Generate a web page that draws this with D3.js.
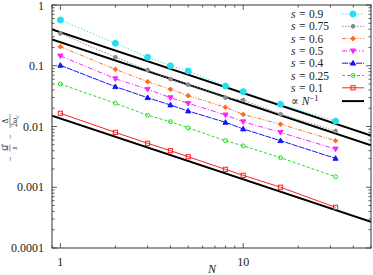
<!DOCTYPE html>
<html><head><meta charset="utf-8">
<script src="https://cdn.jsdelivr.net/npm/d3@7"></script>
<style>body{margin:0;background:#fff}svg{display:block}text{font-family:"Liberation Serif","DejaVu Serif",serif;fill:#222}</style>
</head><body><svg id="c" width="373" height="275"></svg>
<script>
const N = [1,2,3,4,5,8,10,16,32];
const sLabels = ["0.9","0.75","0.6","0.5","0.4","0.25","0.1"];
const s09  = [0.566,0.234,0.138,0.100,0.082,0.0464,0.0374,0.0232,0.0123];
const s075 = [0.341,0.138,0.085,0.0605,0.0488,0.0298,0.0273,0.0159,0.00843];
const s06  = [0.206,0.0873,0.0547,0.0409,0.0322,0.0207,0.0158,0.0109,0.00584];
const s05  = [0.145,0.0612,0.041,0.0298,0.0241,0.0155,0.012,0.0080,0.00426];
const s04  = [0.1016,0.0452,0.0298,0.0226,0.018,0.0117,0.0091,0.00584,0.00299];
const s025 = [0.050,0.0241,0.0153,0.012,0.0095,0.00585,0.0048,0.00306,0.00149];
const s01  = [0.0165,0.0080,0.00529,0.0040,0.00318,0.00197,0.00157,0.0010,0.000467];
const refCoefs = [0.355,0.245,0.0135];
const yTickVals = [1,0.1,0.01,0.001,0.0001];
const yTickLabels = ["1","0.1","0.01","0.001","0.0001"];
const xTickVals = [1,10];
const xTickLabels = ["1","10"];

const series = [
 {v:s09, c:"#22e0ee", dash:"1.2,2", m:"circle", r:3.0, fill:true},
 {v:s075,c:"#8c8c8c", dash:"1.5,1.5", m:"circle", r:1.9, fill:true},
 {v:s06, c:"#ff6a1c", dash:"4,1.5,1,1.5,1,1.5", m:"diamond", r:2.3, fill:true},
 {v:s05, c:"#ff22ff", dash:"5,2,1,2", m:"tridown", r:2.7, fill:true},
 {v:s04, c:"#1515ff", dash:"6,1", m:"triup", r:2.7, fill:true},
 {v:s025,c:"#22dd22", dash:"3,2", m:"circle", r:2.0, fill:false},
 {v:s01, c:"#ff2020", dash:null, m:"square", r:2.1, fill:false}
];

const L=52,R=371,T=5,B=248;
const x=d3.scaleLog().domain([0.9,50]).range([L,R]);
const y=d3.scaleLog().domain([0.0001,1]).range([B,T]);
const svg=d3.select("#c");

// ticks
const tk=svg.append("g").attr("stroke","#333").attr("stroke-width",0.8);
const minorY=[],minorX=[];
for(let e=-4;e<0;e++)for(let k=2;k<=9;k++)minorY.push(k*Math.pow(10,e));
for(let e=-1;e<2;e++)for(let k=1;k<=9;k++){const v=k*Math.pow(10,e);if(v>=0.9&&v<=50&&v!==1&&v!==10)minorX.push(v);}
yTickVals.forEach(v=>{tk.append("line").attr("x1",L).attr("x2",L+5).attr("y1",y(v)).attr("y2",y(v));tk.append("line").attr("x1",R).attr("x2",R-5).attr("y1",y(v)).attr("y2",y(v));});
minorY.forEach(v=>{tk.append("line").attr("x1",L).attr("x2",L+2.5).attr("y1",y(v)).attr("y2",y(v));tk.append("line").attr("x1",R).attr("x2",R-2.5).attr("y1",y(v)).attr("y2",y(v));});
xTickVals.forEach(v=>{tk.append("line").attr("y1",B).attr("y2",B-5).attr("x1",x(v)).attr("x2",x(v));tk.append("line").attr("y1",T).attr("y2",T+5).attr("x1",x(v)).attr("x2",x(v));});
minorX.forEach(v=>{tk.append("line").attr("y1",B).attr("y2",B-2.5).attr("x1",x(v)).attr("x2",x(v));tk.append("line").attr("y1",T).attr("y2",T+2.5).attr("x1",x(v)).attr("x2",x(v));});

// tick labels
yTickVals.forEach((v,i)=>svg.append("text").attr("x",44).attr("y",y(v)+(i===0?1:0)).attr("dy","0.35em").attr("text-anchor","end").attr("font-size",12).text(yTickLabels[i]));
xTickVals.forEach((v,i)=>svg.append("text").attr("x",x(v)).attr("y",266).attr("text-anchor","middle").attr("font-size",12).text(xTickLabels[i]));
svg.append("text").attr("x",212).attr("y",273).attr("text-anchor","middle").attr("font-size",12).attr("font-style","italic").text("N");

// y label
const yl=svg.append("g").attr("transform","translate(10,128) rotate(-90)").attr("font-size",9);
yl.append("text").attr("x",-31).attr("y",3).attr("text-anchor","middle").text("−");
yl.append("text").attr("x",-20).attr("y",-2).attr("text-anchor","middle").attr("font-size",7.5).text("Ω̂");
yl.append("line").attr("x1",-23.5).attr("x2",-16.5).attr("y1",0).attr("y2",0).attr("stroke","#222").attr("stroke-width",0.5);
yl.append("text").attr("x",-20).attr("y",6.5).attr("text-anchor","middle").attr("font-size",7.5).attr("font-style","italic").text("s");
yl.append("text").attr("x",-9).attr("y",3).attr("text-anchor","middle").text("−");
yl.append("text").attr("x",7).attr("y",-2).attr("text-anchor","middle").attr("font-size",7.5).text("Δ");
yl.append("line").attr("x1",0).attr("x2",14).attr("y1",0).attr("y2",0).attr("stroke","#222").attr("stroke-width",0.5);
const dn=yl.append("text").attr("x",7).attr("y",7).attr("text-anchor","middle").attr("font-size",7.5);
dn.append("tspan").text("2");dn.append("tspan").attr("font-style","italic").text("ω");dn.append("tspan").attr("font-size",5.5).attr("dy",1.5).attr("font-style","italic").text("c");

// reference lines
svg.append("clipPath").attr("id","cp").append("rect").attr("x",L).attr("y",T).attr("width",R-L).attr("height",B-T);
const plot=svg.append("g").attr("clip-path","url(#cp)");
const xs=[0.9,50];
refCoefs.forEach(c=>{
 plot.append("path").attr("d",d3.line().x(d=>x(d)).y(d=>y(c/d))(xs)).attr("stroke","#000").attr("stroke-width",2).attr("fill","none");
});

function marker(g,type,cx,cy,r,col,fill){
 let el;
 if(type==="circle") el=g.append("circle").attr("cx",cx).attr("cy",cy).attr("r",r);
 else if(type==="square") el=g.append("rect").attr("x",cx-r).attr("y",cy-r).attr("width",2*r).attr("height",2*r);
 else {
  let pts;
  if(type==="diamond") pts=[[0,-r],[r,0],[0,r],[-r,0]];
  else if(type==="triup") pts=[[0,-r],[r*0.95,r*0.7],[-r*0.95,r*0.7]];
  else pts=[[0,r],[r*0.95,-r*0.7],[-r*0.95,-r*0.7]];
  el=g.append("polygon").attr("points",pts.map(p=>[cx+p[0],cy+p[1]].join(",")).join(" "));
 }
 el.attr("fill",fill?col:"none").attr("stroke",col).attr("stroke-width",1);
}

series.forEach(s=>{
 const pts=N.map((n,i)=>[n,s.v[i]]);
 const p=plot.append("path").attr("d",d3.line().x(d=>x(d[0])).y(d=>y(d[1]))(pts)).attr("stroke",s.c).attr("stroke-width",1).attr("fill","none");
 if(s.dash)p.attr("stroke-dasharray",s.dash);
 pts.forEach(d=>marker(plot,s.m,x(d[0]),y(d[1]),s.r,s.c,s.fill));
});

// legend
const lg=svg.append("g").attr("font-size",11.5);
const rowY=i=>14+i*12.3;
series.forEach((s,i)=>{
 const yy=rowY(i);
 const t=lg.append("text").attr("x",291).attr("y",yy).attr("dy","0.35em");
 t.append("tspan").attr("font-style","italic").text("s");
 t.append("tspan").attr("dx",3.5).text("=");
 t.append("tspan").attr("dx",3.5).text(sLabels[i]);
 const l=lg.append("line").attr("x1",342).attr("x2",364).attr("y1",yy).attr("y2",yy).attr("stroke",s.c).attr("stroke-width",1);
 if(s.dash)l.attr("stroke-dasharray",s.dash);
 marker(lg,s.m,353,yy,s.r,s.c,s.fill);
});
const yy=rowY(7);
const t=lg.append("text").attr("x",291).attr("y",yy+1).attr("dy","0.35em");
t.append("tspan").text("∝");
t.append("tspan").attr("dx",3).attr("font-style","italic").text("N");
t.append("tspan").attr("font-size",8.5).attr("dy",-4).text("−1");
lg.append("line").attr("x1",342).attr("x2",364).attr("y1",yy+1).attr("y2",yy+1).attr("stroke","#000").attr("stroke-width",2);

// frame
svg.append("rect").attr("x",L).attr("y",T).attr("width",R-L).attr("height",B-T).attr("fill","none").attr("stroke","#333").attr("stroke-width",1);
</script></body></html>
